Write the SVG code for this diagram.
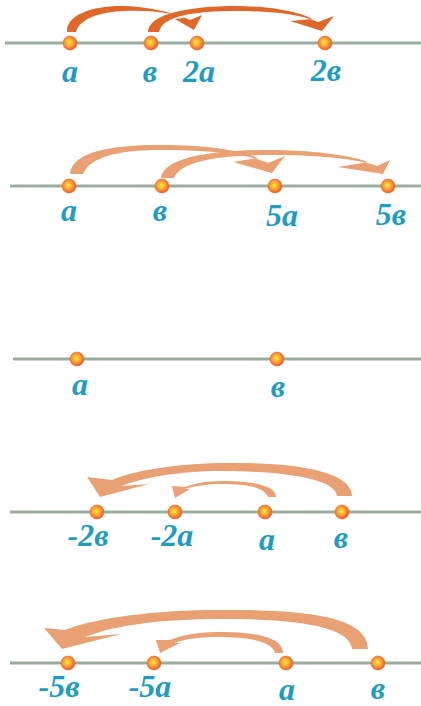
<svg xmlns="http://www.w3.org/2000/svg" width="421" height="706" viewBox="0 0 421 706">
<defs>
<radialGradient id="dotg" cx="45%" cy="45%" r="55%">
<stop offset="0" stop-color="#ffec3a"/>
<stop offset="0.5" stop-color="#fca634"/>
<stop offset="1" stop-color="#ec5a2a"/>
</radialGradient>
</defs>
<style>
.axis{stroke:#9aae9f;stroke-width:3;fill:none}
.dot{fill:url(#dotg);stroke:#e8642c;stroke-width:0.6}
.lbl{font-family:"Liberation Serif",serif;font-style:italic;font-weight:bold;font-size:32px;fill:#1f9cc2;text-anchor:middle}
.dark{fill:#e0672a}
.light{fill:#e9a072}
</style>
<g id="axes">
<line class="axis" x1="5" y1="43" x2="421" y2="43"/>
<line class="axis" x1="10" y1="186" x2="421" y2="186"/>
<line class="axis" x1="13" y1="359" x2="421" y2="359"/>
<line class="axis" x1="10" y1="512" x2="421" y2="512"/>
<line class="axis" x1="10" y1="663" x2="421" y2="663"/>
</g>
<g id="connectors">
<path class="dark" d="M67,32 C66,14 95,5 125,6 C150,7 170,12 184,18 L175,19 L194,30 L202,15 L190,20 C175,13 150,10 125,11 C100,12 80,18 76,32 Z"/>
<path class="dark" d="M148,32 C148,14 190,6 235,6 C270,6 300,12 312,19 L290,21 L322,31 L334,16 L318,22 C300,14 270,11 235,11 C195,11 162,16 159,32 Z"/>
<path class="light" d="M70,174 C72,152 110,145 160,145 C205,145 240,150 258,158 L233,162 L272,173 L285,156 L268,163 C245,153 205,150 160,150 C115,150 90,158 83,174 Z"/>
<path class="light" d="M161,178 C163,158 210,150 268,150 C310,150 350,155 368,162 L338,167 L383,174 L390,160 L377,166 C355,158 315,155 268,155 C215,155 180,162 174,178 Z"/>
<path class="light" d="M352,496 C352,470 290,462 220,463 C170,464 130,472 112,480 L87,477 L100,497 L149,484 L122,486 C140,478 180,471 220,471 C280,471 335,478 337,496 Z"/>
<path class="light" d="M276,497 C276,485 250,481 222,481 C205,481 193,484 185,487 L172,486 L175,498 L190,489 L184,489 C195,486 207,484 222,484 C245,484 265,487 268,497 Z"/>
<path class="light" d="M368,649 C368,615 300,609 210,610 C140,611 90,620 65,630 L44,628 L62,649 L121,634 L85,637 C110,627 150,620 210,619 C290,618 350,625 352,649 Z"/>
<path class="light" d="M283,653 C283,637 255,632 218,632 C195,632 180,636 170,640 L156,640 L160,653 L180,643 L174,643 C185,639 200,637 218,637 C248,637 272,641 275,653 Z"/>
</g>
<g id="row1">
<g id="r1-a"><circle class="dot" cx="70" cy="43" r="7"/><text class="lbl" x="70" y="82">a</text></g>
<g id="r1-b"><circle class="dot" cx="151" cy="43" r="7"/><text class="lbl" x="150" y="82">в</text></g>
<g id="r1-2a"><circle class="dot" cx="197" cy="43" r="7"/><text class="lbl" x="199" y="82">2a</text></g>
<g id="r1-2b"><circle class="dot" cx="325" cy="43" r="7"/><text class="lbl" x="326" y="81">2в</text></g>
</g>
<g id="row2">
<g id="r2-a"><circle class="dot" cx="69" cy="186" r="7"/><text class="lbl" x="69" y="221">a</text></g>
<g id="r2-b"><circle class="dot" cx="162" cy="186" r="7"/><text class="lbl" x="160" y="221">в</text></g>
<g id="r2-5a"><circle class="dot" cx="275" cy="186" r="7"/><text class="lbl" x="282" y="226">5a</text></g>
<g id="r2-5b"><circle class="dot" cx="388" cy="186" r="7"/><text class="lbl" x="391" y="225">5в</text></g>
</g>
<g id="row3">
<g id="r3-a"><circle class="dot" cx="77" cy="359" r="7"/><text class="lbl" x="80" y="395">a</text></g>
<g id="r3-b"><circle class="dot" cx="277" cy="359" r="7"/><text class="lbl" x="278" y="397">в</text></g>
</g>
<g id="row4">
<g id="r4-m2b"><circle class="dot" cx="97" cy="512" r="7"/><text class="lbl" x="88" y="546">-2в</text></g>
<g id="r4-m2a"><circle class="dot" cx="175" cy="512" r="7"/><text class="lbl" x="172" y="546">-2a</text></g>
<g id="r4-a"><circle class="dot" cx="265" cy="512" r="7"/><text class="lbl" x="267" y="550">a</text></g>
<g id="r4-b"><circle class="dot" cx="342" cy="512" r="7"/><text class="lbl" x="341" y="548">в</text></g>
</g>
<g id="row5">
<g id="r5-m5b"><circle class="dot" cx="68" cy="663" r="7"/><text class="lbl" x="59" y="697">-5в</text></g>
<g id="r5-m5a"><circle class="dot" cx="154" cy="663" r="7"/><text class="lbl" x="150" y="697">-5a</text></g>
<g id="r5-a"><circle class="dot" cx="286" cy="663" r="7"/><text class="lbl" x="287" y="700">a</text></g>
<g id="r5-b"><circle class="dot" cx="378" cy="663" r="7"/><text class="lbl" x="378" y="699">в</text></g>
</g>
</svg>
